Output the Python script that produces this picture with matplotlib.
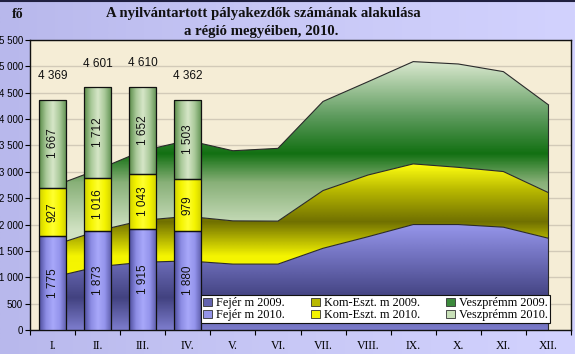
import numpy as np
import matplotlib
matplotlib.use("Agg")
import matplotlib.pyplot as plt
from matplotlib.colors import LinearSegmentedColormap
from matplotlib.patches import Patch
from matplotlib.lines import Line2D

# ---------------- data ----------------
months = ['I.', 'II.', 'III.', 'IV.', 'V.', 'VI.', 'VII.', 'VIII.', 'IX.', 'X.', 'XI.', 'XII.']
fejer_2009 = [1000, 1200, 1285, 1310, 1250, 1250, 1550, 1770, 2000, 2000, 1950, 1740]
komeszt_2009 = [600, 680, 795, 845, 820, 815, 1095, 1170, 1150, 1085, 1055, 865]
veszprem_2009 = [1120, 1160, 1320, 1440, 1330, 1380, 1690, 1770, 1940, 1960, 1895, 1665]

months_2010 = ['I.', 'II.', 'III.', 'IV.']
fejer_2010 = [1775, 1873, 1915, 1880]
komeszt_2010 = [927, 1016, 1043, 979]
veszprem_2010 = [1667, 1712, 1652, 1503]

yticks = list(range(0, 5501, 500))
YMAX = 5500

SERIF = ['Liberation Serif', 'DejaVu Serif']
SANS = ['Liberation Sans', 'DejaVu Sans']


def fmt(v):
    return f"{int(v):,}".replace(",", " ")


fig = plt.figure(figsize=(5.75, 3.54), dpi=100)

# figure background gradient
bg = fig.add_axes([0, 0, 1, 1], zorder=-10)
bg.set_axis_off()
bgcm = LinearSegmentedColormap.from_list('bg', ['#b8b8ec', '#c8c8f6', '#d2d2fe'])
bg.imshow(np.linspace(0, 1, 256).reshape(1, -1), cmap=bgcm, aspect='auto',
          extent=[0, 1, 0, 1], interpolation='bilinear')
bg.set_xlim(0, 1)
bg.set_ylim(0, 1)
bg.add_line(Line2D([0, 1], [0.997, 0.997], color='#202040', lw=1.5))

ax = fig.add_axes([30 / 575, 24 / 354, 541 / 575, 290 / 354])
ax.set_facecolor('#f5edd6')

x = np.arange(len(months))
xb = np.arange(len(months_2010))

# stacked areas (2009) with vertical gradients
c1 = np.array(fejer_2009)
c2 = c1 + np.array(komeszt_2009)
c3 = c2 + np.array(veszprem_2009)


def make_cmap(name, stops):
    pos = [s[0] / YMAX for s in stops]
    cols = [s[1] for s in stops]
    return LinearSegmentedColormap.from_list(name, list(zip(pos, cols)))


blue_cm = make_cmap('b', [(0, '#7c7ccc'), (600, '#424280'), (1300, '#6c6cb8'),
                          (2100, '#9c9cf2'), (5500, '#9c9cf2')])
yel_cm = make_cmap('y', [(0, '#ffff00'), (1400, '#f4f400'), (2050, '#707000'),
                         (2650, '#b8b800'), (3150, '#ffff10'), (5500, '#ffff10')])
grn_cm = make_cmap('g', [(0, '#d0e0c0'), (1900, '#d0e2c2'), (2800, '#88b078'),
                         (3350, '#127012'), (4050, '#5c9a5c'), (5100, '#dae8cf'),
                         (5500, '#dae8cf')])

vals = np.linspace(0, YMAX, 600).reshape(-1, 1)
layers = [(np.zeros(len(x)), c1, blue_cm), (c1, c2, yel_cm), (c2, c3, grn_cm)]
for lo, hi, cm in layers:
    poly = ax.fill_between(x, lo, hi, facecolor='none', edgecolor='none', zorder=1)
    im = ax.imshow(vals, cmap=cm, vmin=0, vmax=YMAX, origin='lower', aspect='auto',
                   extent=[-0.5, 11.5, 0, YMAX], zorder=1, interpolation='bilinear')
    im.set_clip_path(poly.get_paths()[0], ax.transData)
    ax.plot(x, hi, color='#2a2a2a', lw=0.8, zorder=2)
ax.plot([x[-1], x[-1]], [0, c3[-1]], color='#2a2a2a', lw=0.8, zorder=2)

# stacked bars (2010) with horizontal gradients
bw = 0.6
bar_cms = [
    LinearSegmentedColormap.from_list('bb', ['#4c4c9c', '#8c8ce4', '#a8a8fa', '#9494ec', '#5a5aa8']),
    LinearSegmentedColormap.from_list('yb', ['#d0d000', '#f4f400', '#ffff30', '#f4f400', '#d0d000']),
    LinearSegmentedColormap.from_list('gb', ['#5a8c48', '#a8c898', '#d6e6c8', '#a8c898', '#5e9050']),
]
series_2010 = [fejer_2010, komeszt_2010, veszprem_2010]
bottom = np.zeros(len(xb))
hgrad = np.linspace(0, 1, 64).reshape(1, -1)
for vals10, cm in zip(series_2010, bar_cms):
    bars = ax.bar(xb, vals10, bw, bottom=bottom, color=cm(0.5), edgecolor='none', zorder=3)
    for rect, v in zip(bars, vals10):
        x0, y0, w, h = rect.get_x(), rect.get_y(), rect.get_width(), rect.get_height()
        im = ax.imshow(hgrad, cmap=cm, aspect='auto', extent=[x0, x0 + w, y0, y0 + h],
                       zorder=3.1, interpolation='bilinear')
        im.set_clip_path(rect)
        ax.text(x0 + w / 2, y0 + h / 2, fmt(v), rotation=90, ha='center', va='center',
                fontsize=8.5, family=SANS, color='#111111', zorder=5)
    ax.bar(xb, vals10, bw, bottom=bottom, facecolor='none', edgecolor='#111111',
           lw=0.9, zorder=4)
    bottom = bottom + np.array(vals10)

for xi, tot in zip(xb, bottom):
    ax.annotate(fmt(tot), (xi, tot), xytext=(0, 17), textcoords='offset points',
                ha='center', va='center', fontsize=8.5, family=SANS, color='#111111',
                zorder=5)

# axes styling
ax.set_xlim(-0.5, len(months) - 0.5)
ax.set_ylim(0, YMAX)
ax.set_yticks(yticks)
ax.set_yticklabels([fmt(v) for v in yticks], family=SANS, fontsize=7)
ax.set_xticks(x)
ax.set_xticklabels(months, family=SERIF, fontsize=8.5)
ax.set_xticks(np.arange(-0.5, len(months), 1), minor=True)
ax.tick_params(axis='x', which='major', length=0, pad=7)
ax.tick_params(axis='x', which='minor', length=3.5, width=0.8, direction='out')
ax.tick_params(axis='y', length=3.5, width=0.8, direction='out', pad=1.5)
ax.yaxis.grid(True, color='#d2cab8', lw=1)
ax.set_axisbelow(True)
for sp in ax.spines.values():
    sp.set_color('#111111')
    sp.set_linewidth(1.0)

# legend
handles = [
    Patch(facecolor='#6464b0', edgecolor='#333333', lw=0.6, label='Fejér m 2009.'),
    Patch(facecolor='#9494e8', edgecolor='#333333', lw=0.6, label='Fejér m 2010.'),
    Patch(facecolor='#b8b800', edgecolor='#333333', lw=0.6, label='Kom-Eszt. m 2009.'),
    Patch(facecolor='#f4f400', edgecolor='#333333', lw=0.6, label='Kom-Eszt. m 2010.'),
    Patch(facecolor='#3c8a3c', edgecolor='#333333', lw=0.6, label='Veszprémm 2009.'),
    Patch(facecolor='#c8e0b8', edgecolor='#333333', lw=0.6, label='Veszprémm 2010.'),
]
leg = ax.legend(handles=handles, ncol=3, loc='lower left',
                bbox_to_anchor=(0.317, 0.024, 0.644, 0.097), mode='expand',
                prop={'family': SERIF, 'size': 8.8}, frameon=True, fancybox=False,
                borderpad=0.15, labelspacing=0.0, handlelength=0.7, handleheight=0.7,
                handletextpad=0.35, columnspacing=0.8, borderaxespad=0)
leg.get_frame().set_edgecolor('#111111')
leg.get_frame().set_linewidth(0.8)
leg.get_frame().set_facecolor('white')
leg.get_frame().set_alpha(1)
leg.set_zorder(6)

# titles
fig.text(0.458, 1 - 13 / 354, 'A nyilvántartott pályakezdők számának alakulása',
         ha='center', va='center', family=SERIF, fontsize=10.6, weight='bold', color='#111111')
fig.text(0.455, 1 - 32 / 354, 'a régió megyéiben, 2010.',
         ha='center', va='center', family=SERIF, fontsize=10.6, weight='bold', color='#111111')
fig.text(18 / 575, 1 - 14 / 354, 'fő', ha='center', va='center', family=SERIF,
         fontsize=10, weight='bold', color='#111111')

fig.savefig('out.png', dpi=100)
